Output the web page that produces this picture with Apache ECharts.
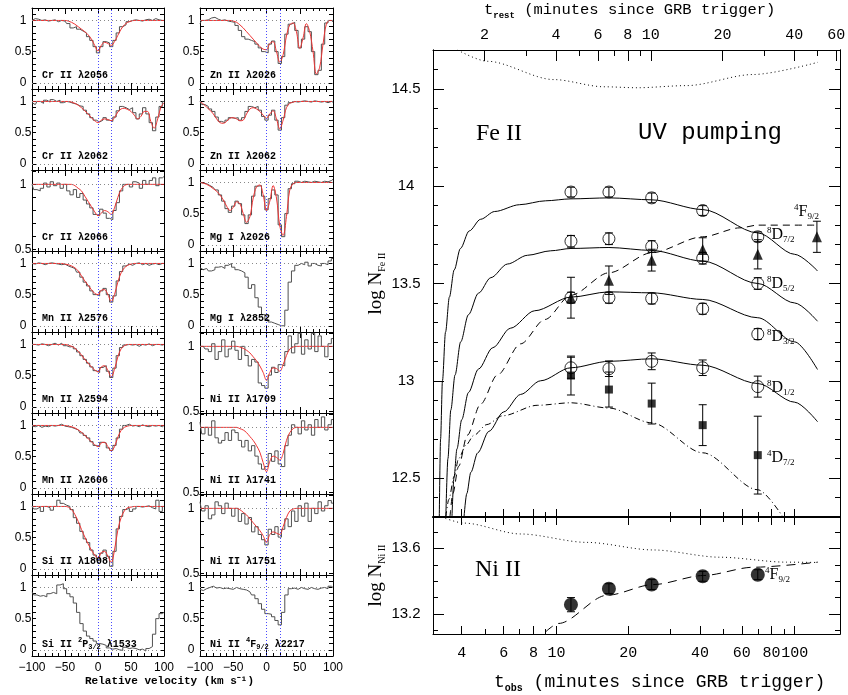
<!DOCTYPE html>
<html><head><meta charset="utf-8">
<script src="https://cdn.jsdelivr.net/npm/echarts@6/dist/echarts.min.js"></script>
<style>html,body{margin:0;padding:0;background:#fff}#c{width:848px;height:695px}</style>
</head><body><div id="c"></div><script>
// ---------------- spectra (left) ----------------
const velocity = [-100,-95,-90,-85,-80,-75,-70,-65,-60,-55,-50,-45,-40,-35,-30,-25,-20,-15,-10,-5,0,5,10,15,20,25,30,35,40,45,50,55,60,65,70,75,80,85,90,95,100];

const crII2056Flux  = [1.0,1.03,1.02,1.0,1.01,0.99,1.0,1.01,0.98,1.0, 0.99,0.95,0.88,0.9,0.86,0.83,0.8,0.74,0.68,0.58, 0.48,0.58,0.66,0.64,0.58,0.68,0.8,0.9,0.93,0.98, 1.0,1.01,1.0,0.99,1.01,1.02,1.0,1.03,1.01,1.0, 1.0];
const crII2056Model = [1,1,1,1,1,1,1,1,1,1, 1.0,0.99,0.97,0.94,0.9,0.86,0.82,0.77,0.7,0.6, 0.51,0.6,0.65,0.63,0.6,0.66,0.76,0.86,0.93,0.97, 0.99,1,1,1,1,1,1,1,1,1, 1];
const crII2062Flux  = [0.98,0.95,1.0,0.97,1.02,0.99,1.03,1.0,1.02,0.98, 1.0,0.99,0.97,0.96,0.93,0.92,0.86,0.8,0.74,0.7, 0.67,0.7,0.74,0.7,0.68,0.75,0.85,0.92,0.9,0.87, 0.9,0.82,0.72,0.8,0.9,0.8,0.66,0.53,0.75,0.92, 1.0];
const crII2062Model = [1,1,1,1,1,1,1,1,1,1, 1.0,1.0,0.99,0.97,0.94,0.9,0.85,0.8,0.74,0.69, 0.66,0.7,0.72,0.71,0.69,0.74,0.83,0.88,0.89,0.87, 0.84,0.78,0.72,0.76,0.84,0.84,0.68,0.57,0.7,0.9, 0.98];
const crII2066Flux  = [1.0,0.96,0.95,0.97,1.01,0.98,1.02,0.99,1.01,0.97, 1.0,0.95,0.92,0.96,0.9,0.93,0.88,0.85,0.82,0.77, 0.76,0.81,0.78,0.74,0.73,0.8,0.86,0.95,1.0,1.0, 0.98,1.02,1.01,0.97,1.03,1.0,1.03,1.05,0.99,1.05, 1.06];
const crII2066Model = [1,1,1,1,1,1,1,1,1,1, 1,1,1,0.99,0.97,0.95,0.91,0.87,0.83,0.79, 0.76,0.78,0.8,0.79,0.77,0.82,0.9,0.96,0.99,1.0, 1,1,1,1,1,1,1,1,1,1, 1];
const mnII2576Flux  = [1.0,0.99,1.01,1.0,0.98,1.0,1.01,1.0,0.99,0.98, 0.99,0.96,0.94,0.92,0.86,0.78,0.7,0.64,0.56,0.5, 0.48,0.56,0.6,0.5,0.38,0.48,0.72,0.87,0.96,0.99, 0.97,1.0,1.01,0.98,1.0,0.97,0.99,1.0,0.98,1.0, 1.0];
const mnII2576Model = [1,1,1,1,1,1,1,1,1,1, 0.99,0.98,0.96,0.93,0.88,0.8,0.72,0.65,0.58,0.52, 0.5,0.57,0.58,0.5,0.39,0.5,0.7,0.85,0.93,0.97, 0.99,1,1,1,1,1,1,1,1,1, 1];
const mnII2594Flux  = [1.0,1.0,0.99,1.01,1.0,0.98,1.0,1.02,0.99,1.02, 0.98,0.96,0.97,0.93,0.88,0.82,0.76,0.7,0.64,0.58, 0.55,0.63,0.66,0.57,0.47,0.62,0.82,0.95,0.99,1.0, 0.99,1.0,0.97,1.0,0.99,1.01,0.98,1.0,1.0,0.99, 1.0];
const mnII2594Model = [1,1,1,1,1,1,1,1,1,1, 1.0,0.99,0.97,0.94,0.89,0.83,0.76,0.7,0.64,0.59, 0.56,0.64,0.66,0.58,0.48,0.6,0.8,0.93,0.98,1.0, 1,1,1,1,1,1,1,1,1,1, 1];
const mnII2606Flux  = [0.99,0.98,1.0,0.97,0.99,0.98,1.0,0.99,1.0,1.02, 0.99,0.98,0.97,0.95,0.93,0.88,0.84,0.8,0.74,0.68, 0.66,0.73,0.72,0.64,0.6,0.68,0.8,0.94,1.0,1.02, 0.99,1.0,0.98,1.01,0.99,0.98,1.0,0.99,1.0,0.98, 1.0];
const mnII2606Model = [1,1,1,1,1,1,1,1,1,1, 1.0,0.99,0.98,0.96,0.93,0.89,0.84,0.79,0.74,0.69, 0.66,0.72,0.73,0.66,0.59,0.66,0.81,0.92,0.97,0.99, 1,1,1,1,1,1,1,1,1,1, 1];
const siII1808Flux  = [1.0,0.96,0.99,0.92,1.0,0.98,0.94,1.0,1.1,1.05, 1.02,1.0,0.95,0.82,0.73,0.6,0.48,0.42,0.3,0.22, 0.14,0.25,0.3,0.2,0.04,0.28,0.64,0.84,0.95,0.97, 0.92,0.96,1.0,0.99,1.0,1.01,0.98,0.96,1.1,0.92, 1.0];
const siII1808Model = [1,1,1,1,1,1,1,1,1,1, 1.0,0.99,0.95,0.87,0.76,0.63,0.51,0.4,0.3,0.22, 0.17,0.26,0.28,0.2,0.1,0.3,0.62,0.82,0.93,0.98, 0.99,1,1,1,1,1,1,1,1,1, 1];
const siII1533Flux  = [0.93,0.88,0.86,0.87,0.85,0.9,0.92,0.9,1.04,1.06, 0.98,0.9,0.85,0.75,0.6,0.42,0.3,0.22,0.18,0.14, 0.1,0.09,0.07,0.03,0.01,0.02,0.0,-0.01,0.04,0.02, 0.03,0.02,0.0,0.01,-0.02,0.02,0.05,0.25,0.5,0.58, 0.6];

const znII2026Flux  = [0.95,1.0,1.01,1.04,1.05,1.02,1.0,1.01,0.99,0.98, 0.97,0.92,0.84,0.74,0.7,0.68,0.66,0.62,0.56,0.5, 0.48,0.62,0.67,0.5,0.31,0.42,0.78,0.94,0.97,0.84, 0.56,0.7,0.9,0.82,0.5,0.13,0.2,0.62,0.96,1.0, 0.98];
const znII2026Model = [1,1,1,1,1,1,1,1,1,1, 0.99,0.97,0.93,0.88,0.82,0.76,0.7,0.64,0.58,0.54, 0.53,0.63,0.66,0.5,0.33,0.45,0.75,0.93,0.96,0.82, 0.55,0.72,0.95,0.82,0.5,0.14,0.25,0.62,0.94,1.0, 1.0];
const znII2062Flux  = [1.0,0.95,0.92,0.88,0.84,0.75,0.68,0.66,0.7,0.74, 0.73,0.74,0.7,0.74,0.84,0.92,0.9,0.92,0.86,0.76, 0.7,0.78,0.86,0.7,0.54,0.74,0.94,0.98,1.0,0.99, 1.0,1.01,1.0,0.99,1.01,1.0,0.99,1.0,0.98,1.0, 0.99];
const znII2062Model = [1.0,0.96,0.91,0.86,0.8,0.72,0.66,0.65,0.68,0.73, 0.74,0.72,0.69,0.7,0.8,0.88,0.9,0.88,0.84,0.78, 0.73,0.8,0.85,0.72,0.56,0.7,0.9,0.97,0.99,1.0, 1,1,1,1,1,1,1,1,1,1, 1];
const mgI2026Flux   = [1.0,0.99,0.98,0.95,0.92,0.88,0.8,0.7,0.58,0.52, 0.62,0.7,0.66,0.48,0.34,0.48,0.78,0.94,0.95,0.78, 0.56,0.74,0.88,0.8,0.32,0.13,0.5,0.9,0.98,1.02, 1.0,1.02,1.01,1.0,1.02,1.01,1.0,1.02,1.01,1.03, 1.05];
const mgI2026Model  = [1.0,0.99,0.97,0.94,0.9,0.86,0.8,0.72,0.62,0.55, 0.6,0.69,0.66,0.5,0.36,0.45,0.75,0.93,0.96,0.8, 0.55,0.7,0.95,0.75,0.3,0.15,0.45,0.88,0.98,1.0, 1,1,1,1,1,1,1,1,1,1, 1];
const mgI2852Flux   = [0.93,0.9,0.92,0.88,0.9,0.94,0.95,0.92,0.97,1.0, 0.94,0.9,0.88,0.85,0.78,0.6,0.66,0.45,0.3,0.18, 0.1,0.06,0.04,0.02,0.0,0.0,0.25,0.7,0.88,0.97, 1.0,0.98,1.02,0.96,1.0,0.97,0.96,1.0,0.98,1.04, 1.08];
const niII1709Flux  = [1.0,1.0,0.98,0.96,1.02,0.9,0.96,1.05,0.92,0.98, 1.04,0.97,0.9,1.0,0.93,0.85,0.9,0.88,0.72,0.7, 0.68,0.78,0.84,0.8,0.86,0.85,0.96,1.08,0.95,1.02, 1.1,0.94,1.05,0.98,1.1,0.96,1.08,1.0,0.92,1.02, 1.06];
const niII1709Model = [1,1,1,1,1,1,1,1,1,1, 1,1,0.995,0.985,0.97,0.95,0.92,0.89,0.85,0.8, 0.74,0.8,0.835,0.83,0.81,0.86,0.93,0.98,0.995,1, 1,1,1,1,1,1,1,1,1,1, 1];
const niII1741Flux  = [1.04,0.95,1.0,0.94,1.05,0.92,0.88,0.9,0.96,0.9, 0.98,0.96,0.9,0.85,0.9,0.82,0.86,0.78,0.72,0.68, 0.7,0.8,0.74,0.82,0.72,0.7,0.86,0.94,1.02,1.0, 0.95,1.05,0.98,1.02,0.94,1.06,1.0,1.08,0.98,1.02, 1.06];
const niII1741Model = [1,1,1,1,1,1,1,1,1,1, 1,1,0.99,0.98,0.96,0.93,0.9,0.86,0.81,0.73, 0.66,0.74,0.78,0.77,0.75,0.8,0.9,0.96,0.99,1, 1,1,1,1,1,1,1,1,1,1, 1];
const niII1751Flux  = [1.05,0.98,1.02,0.92,0.95,1.05,1.02,0.96,1.04,1.0, 0.94,1.0,0.9,0.96,0.88,0.93,0.82,0.86,0.8,0.76, 0.72,0.84,0.8,0.86,0.78,0.84,0.92,0.86,0.98,0.9, 1.02,0.94,1.04,0.9,1.0,0.96,1.05,0.98,1.02,1.06, 1.04];
const niII1751Model = [1,1,1,1,1,1,1,1,1,1, 1,1,0.99,0.97,0.95,0.92,0.89,0.86,0.83,0.79, 0.74,0.8,0.82,0.81,0.8,0.86,0.93,0.98,0.995,1, 1,1,1,1,1,1,1,1,1,1, 1];
const niII2217Flux  = [0.97,0.95,0.98,1.0,1.02,0.99,1.0,0.98,0.99,0.98, 0.97,1.0,0.98,0.97,0.96,0.93,0.88,0.82,0.74,0.65, 0.58,0.57,0.53,0.47,0.4,0.6,0.88,0.98,0.99,0.97, 1.0,0.98,0.97,1.0,0.98,0.97,0.99,1.0,0.98,1.02, 1.0];

const fullYTicks  = [0,0.1,0.2,0.3,0.4,0.5,0.6,0.7,0.8,0.9,1.0,1.1];
const fullYLabels = [0,0.5,1];
const halfYTicks  = [0.5,0.6,0.7,0.8,0.9,1.0,1.1];
const halfYLabels = [0.5,1];

const panelLabels = [
  'Cr II λ2056','Cr II λ2062','Cr II λ2066','Mn II λ2576','Mn II λ2594','Mn II λ2606','Si II λ1808',
  '{t|Si II }{sp|2}{t|P}{sb|3/2}{t| λ1533}',
  'Zn II λ2026','Zn II λ2062','Mg I λ2026','Mg I λ2852','Ni II λ1709','Ni II λ1741','Ni II λ1751',
  '{t|Ni II }{sp|4}{t|F}{sb|9/2}{t| λ2217}'
];
const panelFlux  = [crII2056Flux,crII2062Flux,crII2066Flux,mnII2576Flux,mnII2594Flux,mnII2606Flux,siII1808Flux,siII1533Flux,
                    znII2026Flux,znII2062Flux,mgI2026Flux,mgI2852Flux,niII1709Flux,niII1741Flux,niII1751Flux,niII2217Flux];
const panelModel = [crII2056Model,crII2062Model,crII2066Model,mnII2576Model,mnII2594Model,mnII2606Model,siII1808Model,null,
                    znII2026Model,znII2062Model,mgI2026Model,null,niII1709Model,niII1741Model,niII1751Model,null];
const panelHalfRange = [false,false,true,false,false,false,false,false, false,false,false,false,true,true,true,false];

// ---------------- column densities (right) ----------------
const tObs = [11.5,16.6,25.1,41.1,70.0];
const d72 = [13.97,13.97,13.94,13.875,13.74];   const d72Err = [0.025,0.025,0.025,0.025,0.025];
const d52 = [13.717,13.73,13.69,13.63,13.50];   const d52Err = [0.03,0.03,0.03,0.03,0.03];
const d32 = [13.427,13.427,13.423,13.37,13.24]; const d32Err = [0.028,0.028,0.028,0.028,0.028];
const d12 = [13.067,13.062,13.10,13.067,12.97]; const d12Err = [0.054,0.04,0.043,0.04,0.054];
const f92T = [11.5,16.6,25.1,41.1,70.0,124];
const f92 = [13.427,13.517,13.62,13.675,13.65,13.74]; const f92Err = [0.105,0.073,0.056,0.06,0.075,0.08];
const q72 = [13.027,12.955,12.883,12.772,12.618]; const q72Err = [0.1,0.09,0.105,0.105,0.2];
const niF92 = [13.258,13.355,13.38,13.43,13.44]; const niF92Err = [0.043,0.03,0.03,0.03,0.03];

const curveD72T = [3.22,3.26,3.32,3.42,3.55,3.72,3.95,4.3,4.8,5.5,7.0,9.0,11.5,16.6,25.1,41.1,70,100,124.7];
const curveD72N = [12.3,12.7,13.0,13.25,13.43,13.57,13.68,13.77,13.83,13.87,13.905,13.925,13.935,13.94,13.93,13.88,13.76,13.65,13.565];
const curveD52T = [3.43,3.5,3.6,3.75,3.96,4.27,4.7,5.3,6.22,7.55,9.45,11.5,16.6,25.1,41.1,70,100,124.7];
const curveD52N = [12.3,12.6,12.85,13.03,13.2,13.34,13.45,13.53,13.6,13.645,13.668,13.68,13.685,13.67,13.615,13.5,13.4,13.306];
const curveD32T = [3.64,3.71,3.82,4.0,4.27,4.7,5.4,6.4,8.1,11.5,16.6,25.1,41.1,70,100,124.7];
const curveD32N = [12.3,12.5,12.65,12.8,12.94,13.06,13.17,13.27,13.36,13.43,13.457,13.452,13.418,13.324,13.2,13.058];
const curveD12T = [4.09,4.2,4.37,4.67,5.2,6.0,7.07,8.57,11.5,16.6,25.1,41.1,70,100,124.7];
const curveD12N = [12.3,12.42,12.53,12.63,12.74,12.84,12.93,13.0,13.067,13.10,13.113,13.08,12.986,12.89,12.79];
const curveF92T = [3.57,3.67,3.88,4.22,4.8,5.65,7.07,8.94,11.5,16.6,25.1,41.1,58.9,70,124.7];
const curveF92N = [12.3,12.42,12.56,12.72,12.88,13.03,13.19,13.315,13.44,13.555,13.658,13.74,13.786,13.8,13.8];
const curveQ72T = [3.43,3.53,3.72,3.88,4.17,4.5,5.1,5.93,8.3,11.5,16.6,25.1,41.1,70,89.3];
const curveQ72N = [12.3,12.39,12.51,12.6,12.67,12.72,12.775,12.82,12.874,12.887,12.86,12.784,12.63,12.44,12.3];
const curveFeSatT = [3.84,5.13,9.74,15.8,21.8,35.2,66.9,125.2];
const curveFeSatN = [14.70,14.642,14.548,14.511,14.506,14.517,14.574,14.637];
const curveNiSatT = [3.3,4.09,7.07,13.4,25.5,48.5,92.3,125.2];
const curveNiSatN = [13.79,13.753,13.687,13.636,13.59,13.546,13.516,13.514];
const curveNiT = [9.0,10.2,16.3,25.5,41.4,66.9,125.2];
const curveNiN = [13.093,13.144,13.315,13.38,13.435,13.485,13.516];

const tObsLabels = [4,6,8,10,20,40,60,80,100];
const tObsMinor  = [5,7,9,30,50,70,90];
const tRestLabels = [2,4,6,8,10,20,40,60];
const tRestMinor  = [3,5,7,9,30,50];
const feYLabels = [12.5,13,13.5,14,14.5];
const feYMinor  = [12.4,12.6,12.7,12.8,12.9,13.1,13.2,13.3,13.4,13.6,13.7,13.8,13.9,14.1,14.2,14.3,14.4,14.6];
const niYLabels = [13.2,13.6];
const niYMinor  = [13.1,13.3,13.4,13.5,13.7];
const onePlusZ = 2.49;

// ---------------- build ----------------
const serif = 'Liberation Serif', mono = 'Liberation Mono', sans = 'Liberation Sans';
const pts = (xs, ys) => xs.map((x, i) => [x, ys[i]]);
const option = {animation:false, backgroundColor:'#fff', grid:[], xAxis:[], yAxis:[], series:[], title:[]};
const blk = {color:'#000', width:1};

function specX(k, pos, showLabel) {
  return {gridIndex:k, type:'value', min:-100, max:100, interval:50, position:pos,
    axisLine:{show:true, onZero:false, lineStyle:blk},
    axisTick:{show:true, inside:true, length:6, lineStyle:blk},
    minorTick:{show:true, splitNumber:5, length:3, lineStyle:blk},
    splitLine:{show:false}, minorSplitLine:{show:false},
    axisLabel:{show:showLabel, margin:6, fontFamily:sans, fontSize:12, color:'#000',
      formatter: v => v < 0 ? '\u2212' + (-v) : String(v)}};
}
function specY(k, pos, range, ticks, labels) {
  return {gridIndex:k, type:'value', min:range[0], max:range[1], position:pos,
    axisLine:{show:true, onZero:false, lineStyle:blk},
    axisTick:{show:true, inside:true, length:4, customValues:ticks, lineStyle:blk},
    splitLine:{show:false},
    axisLabel: labels ? {show:true, customValues:labels, align:'center', margin:9, fontFamily:sans, fontSize:12, color:'#000'} : {show:false}};
}

panelFlux.forEach((flux, k) => {
  const col = k < 8 ? 0 : 1, row = k % 8;
  const left = col === 0 ? 32 : 200, width = col === 0 ? 132 : 133, top = 8 + 81 * row;
  option.grid.push({left, top, width, height:81, outerBoundsMode:'none'});
  option.xAxis.push(specX(k, 'bottom', row === 7), specX(k, 'top', false));
  const half = panelHalfRange[k];
  const range = half ? [0.49, 1.11] : [-0.1, 1.2];
  const ticks = half ? halfYTicks : fullYTicks;
  option.yAxis.push(specY(k, 'left', range, ticks, half ? halfYLabels : fullYLabels), specY(k, 'right', range, ticks, null));
  const ml = [
    {xAxis:0, lineStyle:{color:'#4b4bff', type:[1,2], width:1}},
    {xAxis:20, lineStyle:{color:'#4b4bff', type:[1,2], width:1}},
    {yAxis:1, lineStyle:{color:'#888', type:[1,3], width:1}}
  ];
  if (!half) ml.push({yAxis:0, lineStyle:{color:'#888', type:[1,3], width:1}});
  option.series.push({type:'line', xAxisIndex:2*k, yAxisIndex:2*k, data:pts(velocity, flux), step:'middle',
    symbol:'none', lineStyle:{color:'#505050', width:1}, silent:true,
    markLine:{silent:true, symbol:'none', label:{show:false}, data:ml}});
  if (panelModel[k]) {
    option.series.push({type:'line', xAxisIndex:2*k, yAxisIndex:2*k, data:pts(velocity, panelModel[k]),
      smooth:0.35, symbol:'none', lineStyle:{color:'#f03434', width:1}, silent:true});
  }
  option.title.push({text:panelLabels[k], left:left + 10, top:top + 62, padding:0,
    textStyle:{fontFamily:mono, fontSize:10, fontWeight:'bold', color:'#000',
      rich:{t:{fontFamily:mono, fontSize:10, fontWeight:'bold', lineHeight:14},
            sp:{fontFamily:mono, fontSize:7, fontWeight:'bold', lineHeight:7, verticalAlign:'top'},
            sb:{fontFamily:mono, fontSize:7, fontWeight:'bold', lineHeight:7, verticalAlign:'bottom'}}}});
});
option.title.push({text:'Relative velocity (km s\u207B\u00B9)', left:85, top:676, padding:0,
  textStyle:{fontFamily:mono, fontSize:11, fontWeight:'bold', color:'#000'}});

// right panels
const FE = 16, NI = 17;
option.grid.push({left:433, top:50, width:407, height:467, outerBoundsMode:'none'});
option.grid.push({left:433, top:517, width:407, height:117, outerBoundsMode:'none'});
const tMin = 3.03, tMax = 155;
function logX(g, pos, min, max, ticks, len, labels, lineW) {
  return {gridIndex:g, type:'log', logBase:10, min, max, position:pos,
    axisLine:{show:lineW > 0, onZero:false, lineStyle:{color:'#000', width:lineW || 1}},
    axisTick:{show:true, inside:true, length:len, customValues:ticks, lineStyle:blk},
    splitLine:{show:false}, minorTick:{show:false},
    axisLabel: labels ? {show:true, customValues:labels, margin: pos === 'top' ? 7 : 12, fontFamily:mono, fontSize:15, color:'#000'} : {show:false}};
}
function valY(g, pos, min, max, ticks, len, labels, name) {
  const a = {gridIndex:g, type:'value', min, max, position:pos,
    axisLine:{show:true, onZero:false, lineStyle:blk},
    axisTick:{show:true, inside:true, length:len, customValues:ticks, lineStyle:blk},
    splitLine:{show:false},
    axisLabel: labels ? {show:true, customValues:labels, align:'center', margin:27, fontFamily:sans, fontSize:15, color:'#000'} : {show:false}};
  if (name) {
    Object.assign(a, {name:name, nameLocation:'middle', nameRotate:90, nameGap:46,
      nameTextStyle:{color:'#000', rich:{a:{fontFamily:serif, fontSize:19, lineHeight:22}, b:{fontFamily:serif, fontSize:10, lineHeight:9, verticalAlign:'bottom'}}}});
  }
  return a;
}
// Fe axes: x 32..35, y 32..35
option.xAxis.push(logX(FE,'bottom',tMin,tMax,tObsLabels,8,null,2));
option.xAxis.push(logX(FE,'bottom',tMin,tMax,tObsMinor,5,null,0));
option.xAxis.push(logX(FE,'top',tMin/onePlusZ,tMax/onePlusZ,tRestLabels,11,tRestLabels,1));
option.xAxis.push(logX(FE,'top',tMin/onePlusZ,tMax/onePlusZ,tRestMinor,6,null,0));
option.yAxis.push(valY(FE,'left',12.3,14.7,feYLabels,11,feYLabels,'{a|log N}{b|Fe II}'));
option.yAxis.push(valY(FE,'left',12.3,14.7,feYMinor,5,null));
option.yAxis.push(valY(FE,'right',12.3,14.7,feYLabels,11,null));
option.yAxis.push(valY(FE,'right',12.3,14.7,feYMinor,5,null));
// Ni axes: x 36..39, y 36..39
option.xAxis.push(logX(NI,'bottom',tMin,tMax,tObsLabels,8,tObsLabels,1));
option.xAxis.push(logX(NI,'bottom',tMin,tMax,tObsMinor,5,null,0));
option.xAxis.push(logX(NI,'top',tMin,tMax,tObsLabels,8,null,1));
option.xAxis.push(logX(NI,'top',tMin,tMax,tObsMinor,5,null,0));
option.yAxis.push(valY(NI,'left',13.08,13.79,niYLabels,11,niYLabels,'{a|log N}{b|Ni II}'));
option.yAxis.push(valY(NI,'left',13.08,13.79,niYMinor,5,null));
option.yAxis.push(valY(NI,'right',13.08,13.79,niYLabels,11,null));
option.yAxis.push(valY(NI,'right',13.08,13.79,niYMinor,5,null));

function curve(ax, xs, ys, type) {
  return {type:'line', xAxisIndex:ax, yAxisIndex:ax, data:pts(xs, ys), smooth:0.3, smoothMonotone:'x',
    symbol:'none', clip:true, silent:true, lineStyle:{color:'#000', width:1, type:type}};
}
function errBars(ax, xs, ys, es, w) {
  return {type:'custom', xAxisIndex:ax, yAxisIndex:ax, silent:true, clip:true,
    data: xs.map((x, i) => [x, ys[i] - es[i], ys[i] + es[i]]), encode:{x:0, y:[1,2]},
    renderItem: (params, api) => {
      const a = api.coord([api.value(0), api.value(1)]), b = api.coord([api.value(0), api.value(2)]);
      const st = {stroke:'#000', lineWidth:1};
      return {type:'group', children:[
        {type:'line', shape:{x1:a[0], y1:a[1], x2:b[0], y2:b[1]}, style:st},
        {type:'line', shape:{x1:a[0]-w, y1:a[1], x2:a[0]+w, y2:a[1]}, style:st},
        {type:'line', shape:{x1:b[0]-w, y1:b[1], x2:b[0]+w, y2:b[1]}, style:st}]};
    }};
}
function marks(ax, xs, ys, symbol, size, filled) {
  return {type:'scatter', xAxisIndex:ax, yAxisIndex:ax, data:pts(xs, ys), symbol, symbolSize:size, silent:true,
    itemStyle: filled ? {color:'#000'} : {color:'rgba(0,0,0,0)', borderColor:'#000', borderWidth:1}};
}
const FX = 32, NX = 36;
option.series.push(
  curve(FX, curveD72T, curveD72N, 'solid'), curve(FX, curveD52T, curveD52N, 'solid'),
  curve(FX, curveD32T, curveD32N, 'solid'), curve(FX, curveD12T, curveD12N, 'solid'),
  curve(FX, curveF92T, curveF92N, [7,5]), curve(FX, curveQ72T, curveQ72N, [6,3,1,3]),
  curve(FX, curveFeSatT, curveFeSatN, [1,3]),
  errBars(FX, tObs, d72, d72Err, 4), errBars(FX, tObs, d52, d52Err, 4), errBars(FX, tObs, d32, d32Err, 4),
  errBars(FX, tObs, d12, d12Err, 4), errBars(FX, f92T, f92, f92Err, 4), errBars(FX, tObs, q72, q72Err, 4),
  marks(FX, tObs, d72, 'circle', 12, false), marks(FX, tObs, d52, 'circle', 12, false),
  marks(FX, tObs, d32, 'circle', 12, false), marks(FX, tObs, d12, 'circle', 12, false),
  marks(FX, f92T, f92, 'triangle', [10,11], true), marks(FX, tObs, q72, 'rect', 8, true),
  curve(NX, curveNiSatT, curveNiSatN, [1,3]), curve(NX, curveNiT, curveNiN, [9,6]),
  errBars(NX, tObs, niF92, niF92Err, 4), marks(NX, tObs, niF92, 'circle', 14, true)
);

const lab = {fontFamily:serif, fontWeight:'normal', color:'#000',
  rich:{sp:{fontFamily:serif, fontWeight:'normal', fontSize:9, lineHeight:8, verticalAlign:'top'},
        m:{fontFamily:serif, fontWeight:'normal', fontSize:16, lineHeight:18},
        sb:{fontFamily:serif, fontWeight:'normal', fontSize:9, lineHeight:8, verticalAlign:'bottom'}}};
const specLabel = (sup, ch, sub, left, top) => ({text:`{sp|${sup}}{m|${ch}}{sb|${sub}}`, left, top, padding:0, textStyle:lab});
option.title.push(
  specLabel('4','F','9/2',794,203), specLabel('8','D','7/2',767,226), specLabel('8','D','5/2',767,275),
  specLabel('8','D','3/2',767,328), specLabel('8','D','1/2',767,379), specLabel('4','D','7/2',767,449),
  specLabel('4','F','9/2',765,566),
  {text:'Fe II', left:476, top:122, padding:0, textStyle:{fontFamily:serif, fontWeight:'normal', fontSize:24, color:'#000'}},
  {text:'UV pumping', left:638, top:121, padding:0, textStyle:{fontFamily:mono, fontWeight:'normal', fontSize:24, color:'#000'}},
  {text:'Ni II', left:475, top:558, padding:0, textStyle:{fontFamily:serif, fontWeight:'normal', fontSize:24, color:'#000'}},
  {text:'{a|t}{b|rest}{a| (minutes since GRB trigger)}', left:484, top:0, padding:0,
    textStyle:{color:'#000', fontWeight:'normal', rich:{a:{fontFamily:mono, fontWeight:'normal', fontSize:15.5, lineHeight:20}, b:{fontFamily:mono, fontSize:9, fontWeight:'bold', lineHeight:8, verticalAlign:'bottom'}}}},
  {text:'{a|t}{b|obs}{a| (minutes since GRB trigger)}', left:494, top:671, padding:0,
    textStyle:{color:'#000', fontWeight:'normal', rich:{a:{fontFamily:mono, fontWeight:'normal', fontSize:18, lineHeight:22}, b:{fontFamily:mono, fontSize:10, fontWeight:'bold', lineHeight:9, verticalAlign:'bottom'}}}}
);

const chart = echarts.init(document.getElementById('c'), null, {renderer:'canvas'});
chart.setOption(option);
</script></body></html>
